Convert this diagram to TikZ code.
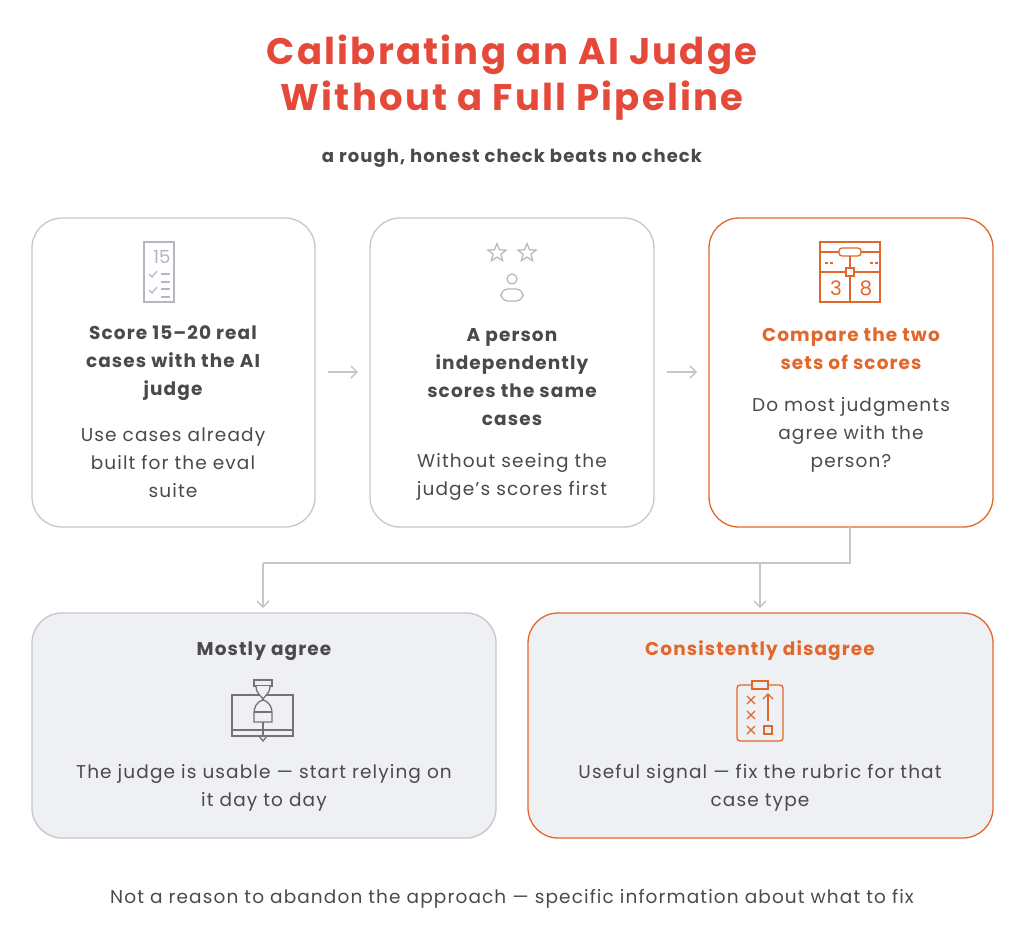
\documentclass[tikz,border=0pt]{standalone}
\usepackage{fontspec}
\setmainfont{Poppins}
\newfontfamily\wide{Poppins}[LetterSpace=6]
\usetikzlibrary{arrows.meta,shapes.geometric}
\definecolor{org}{HTML}{E2672B}
\definecolor{ttl}{HTML}{E5493A}
\definecolor{gry}{HTML}{C6C7CC}
\definecolor{txt}{HTML}{4A4A4A}
\definecolor{ico}{HTML}{B4B6C2}
\definecolor{bfill}{HTML}{EFF0F3}
\begin{document}
\begin{tikzpicture}[x=1pt,y=-1pt,
 box/.style={draw=gry,line width=1.3pt,rounded corners=30pt,fill=white},
 obox/.style={box,draw=org},
 hd/.style={font=\wide\fontsize{18.5}{28}\selectfont\bfseries,text=txt,align=center},
 bd/.style={font=\wide\fontsize{18.5}{28}\selectfont,text=txt,align=center},
 arr/.style={draw=gry,line width=1.5pt,-{Straight Barb[length=6pt,width=12pt]}},
 ic/.style={draw=ico,line width=1.2pt},
 oc/.style={draw=org,line width=1.3pt}]
\useasboundingbox (0,0) rectangle (1024,943);
\node[font=\wide\fontsize{37}{46}\selectfont\bfseries,text=ttl,align=center] (t) at (512,78) {Calibrating an AI Judge\\Without a Full Pipeline};
\node[font=\wide\fontsize{18}{24}\selectfont\bfseries,text=txt] (st) at (512,158) {a rough, honest check beats no check};
\draw[box] (32,218) rectangle (315,527);
\draw[box] (370,218) rectangle (654,527);
\draw[obox] (709,218) rectangle (993,527);
\draw[box,fill=bfill] (32,613) rectangle (496,838);
\draw[obox,fill=bfill] (528,613) rectangle (993,838);
\node[hd] (h1) at (173,363) {Score 15–20 real\\cases with the AI\\judge};
\node[bd] (b1) at (173,463) {Use cases already\\built for the eval\\suite};
\node[hd] (h2) at (512,377) {A person\\independently\\scores the same\\cases};
\node[bd] (b2) at (512,477) {Without seeing the\\judge’s scores first};
\node[hd,text=org] (h3) at (851,349) {Compare the two\\sets of scores};
\node[bd] (b3) at (851,435) {Do most judgments\\agree with the\\person?};
\node[hd] (h4) at (264,651) {Mostly agree};
\node[bd] (b4) at (264,788) {The judge is usable — start relying on\\it day to day};
\node[hd,text=org] (h5) at (760,651) {Consistently disagree};
\node[bd] (b5) at (760,788) {Useful signal — fix the rubric for that\\case type};
\node[bd] (f) at (512,899) {Not a reason to abandon the approach — specific information about what to fix};
\coordinate (a1) at (328,372); \coordinate (a2) at (358,372);
\coordinate (a3) at (667,372); \coordinate (a4) at (697,372);
\draw[arr] (a1) -- (a2); \draw[arr] (a3) -- (a4);
\coordinate (s) at (850,527); \coordinate (j) at (850,563);
\coordinate (l) at (263,563); \coordinate (r) at (760,563);
\coordinate (le) at (263,608); \coordinate (re) at (760,608);
\draw[draw=gry,line width=1.5pt] (s) -- (j) -- (l);
\draw[arr] (l) -- (le); \draw[arr] (r) -- (re);
% icon 1
\draw[ic] (144,242) rectangle (174,302);
\node[font=\fontsize{18}{18}\selectfont,text=ico] at (162,257) {15};
\foreach \y in {277,293}{\draw[ic] (149,\y-3) -- (152,\y) -- (157,\y-6);}
\foreach \y in {274,282,289,297}{\draw[ic] (161,\y) -- (170,\y);}
% icon 2
\foreach \x in {497,527}{\node[star,star points=5,star point ratio=2.3,draw=ico,line width=1.2pt,minimum size=19pt,inner sep=0pt] at (\x,253) {};}
\draw[ic] (512,279) circle (5);
\draw[ic,rounded corners=7pt] (501,301) -- (501,289) -- (523,289) -- (523,301) -- cycle;
% icon 3
\draw[oc] (820,242) rectangle (880,302);
\draw[oc] (820,252) -- (880,252); \draw[oc] (820,272) -- (880,272);
\draw[oc,fill=white,rounded corners=3pt] (839,248) rectangle (861,256);
\draw[oc] (850,256) -- (850,302);
\draw[oc,fill=white] (846,268) rectangle (854,276);
\foreach \x in {825,830,870,875}{\draw[oc] (\x,263) -- (\x+3,263);}
\node[font=\fontsize{20}{20}\selectfont,text=org] at (836,288) {3};
\node[font=\fontsize{20}{20}\selectfont,text=org] at (866,288) {8};
% icon 4
\begin{scope}[draw=gray!90!black,line width=1.3pt]
\draw (232,695) rectangle (293,736);
\draw (232,730) -- (293,730);
\draw (259,736) -- (263,741) -- (267,736);
\draw[fill=bfill] (254,680) rectangle (272,686);
\draw[fill=bfill] (256,686) .. controls (256,695) and (263,696) .. (263,700) .. controls (263,696) and (270,695) .. (270,686);
\draw[fill=bfill] (263,700) .. controls (256,702) and (254,708) .. (254,713) -- (254,722) -- (272,722) -- (272,713) .. controls (272,708) and (270,702) .. (263,700);
\draw (254,712) -- (272,712);
\draw (263,722) -- (263,736);
\end{scope}
% icon 5
\draw[oc,rounded corners=3pt] (737,685) rectangle (783,741);
\draw[oc,fill=bfill] (752,681) rectangle (768,689);
\foreach \y in {700,715,730}{\draw[oc] (747,\y-4) -- (755,\y+4) (747,\y+4) -- (755,\y-4);}
\draw[oc] (768,721) -- (768,694); \draw[oc] (763,699) -- (768,694) -- (773,699);
\draw[oc] (764,726) rectangle (772,734);
\end{tikzpicture}
\end{document}
